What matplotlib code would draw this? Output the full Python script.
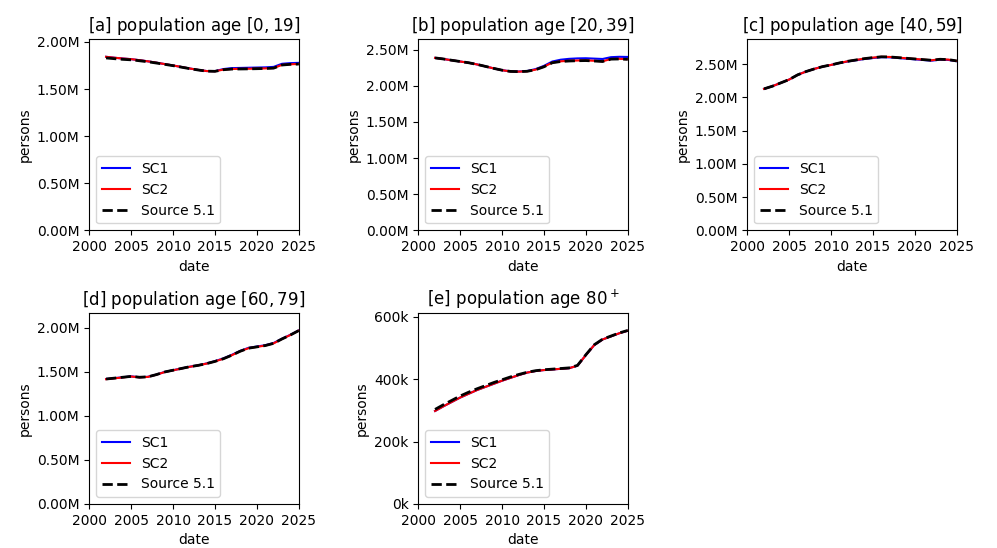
import numpy as np
import matplotlib
matplotlib.use("Agg")
import matplotlib.pyplot as plt
from matplotlib.ticker import FuncFormatter

# jahre
years = np.arange(2002, 2026)

# [a] 0-19 (Mio.)
a_src = [1.830, 1.822, 1.815, 1.810, 1.800, 1.789, 1.776, 1.762, 1.748, 1.732, 1.716, 1.702,
         1.690, 1.688, 1.705, 1.712, 1.713, 1.714, 1.716, 1.718, 1.722, 1.755, 1.762, 1.765]
a_sc1 = [1.842, 1.832, 1.824, 1.817, 1.806, 1.794, 1.780, 1.765, 1.750, 1.734, 1.718, 1.703,
         1.691, 1.690, 1.712, 1.722, 1.724, 1.726, 1.728, 1.730, 1.735, 1.768, 1.775, 1.778]
a_sc2 = [1.842, 1.832, 1.824, 1.817, 1.806, 1.794, 1.780, 1.765, 1.750, 1.734, 1.718, 1.703,
         1.691, 1.689, 1.706, 1.713, 1.714, 1.715, 1.717, 1.719, 1.723, 1.756, 1.763, 1.766]

# [b] 20-39
b_src = [2.385, 2.370, 2.352, 2.335, 2.318, 2.295, 2.268, 2.240, 2.215, 2.198, 2.195, 2.200,
         2.222, 2.262, 2.318, 2.335, 2.342, 2.346, 2.348, 2.342, 2.335, 2.368, 2.370, 2.365]
b_sc1 = [2.385, 2.370, 2.352, 2.335, 2.318, 2.295, 2.268, 2.240, 2.215, 2.199, 2.197, 2.204,
         2.230, 2.275, 2.335, 2.360, 2.372, 2.378, 2.380, 2.375, 2.370, 2.395, 2.400, 2.398]
b_sc2 = [2.385, 2.370, 2.352, 2.335, 2.318, 2.295, 2.268, 2.240, 2.215, 2.198, 2.195, 2.200,
         2.223, 2.264, 2.320, 2.338, 2.345, 2.349, 2.351, 2.345, 2.338, 2.370, 2.372, 2.367]

# [c] 40-59
c_src = [2.130, 2.170, 2.220, 2.270, 2.340, 2.390, 2.430, 2.465, 2.490, 2.520, 2.545, 2.565,
         2.585, 2.600, 2.612, 2.610, 2.600, 2.590, 2.580, 2.570, 2.560, 2.575, 2.570, 2.550]
c_sc1 = [2.130, 2.170, 2.220, 2.270, 2.340, 2.390, 2.430, 2.465, 2.490, 2.518, 2.542, 2.561,
         2.580, 2.594, 2.606, 2.604, 2.594, 2.584, 2.574, 2.564, 2.554, 2.569, 2.565, 2.546]
c_sc2 = [2.130, 2.170, 2.220, 2.270, 2.340, 2.390, 2.430, 2.465, 2.490, 2.520, 2.545, 2.565,
         2.585, 2.600, 2.612, 2.610, 2.600, 2.590, 2.580, 2.570, 2.560, 2.575, 2.570, 2.550]

# [d] 60-79
d_src = [1.420, 1.430, 1.440, 1.450, 1.440, 1.445, 1.470, 1.500, 1.520, 1.540, 1.560, 1.575,
         1.595, 1.620, 1.650, 1.690, 1.735, 1.770, 1.785, 1.800, 1.825, 1.875, 1.920, 1.970]
d_sc1 = [1.420, 1.430, 1.440, 1.450, 1.440, 1.445, 1.470, 1.500, 1.520, 1.540, 1.560, 1.576,
         1.597, 1.623, 1.654, 1.694, 1.739, 1.774, 1.789, 1.804, 1.829, 1.878, 1.922, 1.972]
d_sc2 = [1.418, 1.428, 1.438, 1.448, 1.439, 1.444, 1.469, 1.499, 1.519, 1.539, 1.559, 1.575,
         1.595, 1.620, 1.650, 1.690, 1.735, 1.770, 1.785, 1.800, 1.825, 1.875, 1.920, 1.970]

# [e] 80+ (Tsd.)
e_src = [303, 318, 332, 346, 358, 369, 379, 389, 398, 407, 415, 422,
         427, 430, 432, 434, 436, 444, 478, 510, 528, 538, 548, 556]
e_sc1 = [298, 313, 327, 341, 353, 365, 375, 385, 395, 404, 413, 421,
         426, 429, 431, 433, 435, 443, 477, 509, 527, 537, 547, 555]
e_sc2 = [298, 313, 327, 341, 353, 365, 375, 385, 395, 404, 413, 421,
         426, 429, 431, 433, 435, 443, 477, 509, 527, 537, 547, 555]

titles = [r"[a] population age $[0, 19]$", r"[b] population age $[20, 39]$",
          r"[c] population age $[40, 59]$", r"[d] population age $[60, 79]$",
          r"[e] population age $80^+$"]

mio = FuncFormatter(lambda v, p: f"{v/1e6:.2f}M")
tsd = FuncFormatter(lambda v, p: f"{v/1e3:.0f}k")

daten = [
    (np.array(a_sc1) * 1e6, np.array(a_sc2) * 1e6, np.array(a_src) * 1e6, mio),
    (np.array(b_sc1) * 1e6, np.array(b_sc2) * 1e6, np.array(b_src) * 1e6, mio),
    (np.array(c_sc1) * 1e6, np.array(c_sc2) * 1e6, np.array(c_src) * 1e6, mio),
    (np.array(d_sc1) * 1e6, np.array(d_sc2) * 1e6, np.array(d_src) * 1e6, mio),
    (np.array(e_sc1) * 1e3, np.array(e_sc2) * 1e3, np.array(e_src) * 1e3, tsd),
]

fig, axs = plt.subplots(2, 3, figsize=(9.97, 5.48), dpi=100)
fig.subplots_adjust(left=0.0896, right=0.9596, bottom=0.0803, top=0.928,
                    wspace=0.571, hspace=0.433)
axs = axs.flatten()

for i, (sc1, sc2, src, fmt) in enumerate(daten):
    ax = axs[i]
    ax.plot(years, sc1, color="blue", linewidth=1.5, label="SC1")
    ax.plot(years, sc2, color="red", linewidth=1.5, label="SC2")
    ax.plot(years, src, color="black", linestyle="--", linewidth=2, label="Source 5.1")
    ax.set_xlim(2000, 2025)
    ax.set_xticks([2000, 2005, 2010, 2015, 2020, 2025])
    ax.set_ylim(0, 1.1 * max(sc1.max(), sc2.max(), src.max()))
    ax.yaxis.set_major_formatter(fmt)
    ax.set_title(titles[i])
    ax.set_xlabel("date")
    ax.set_ylabel("persons")
    ax.legend(loc="lower left")

axs[5].axis("off")

plt.savefig("out.png")
